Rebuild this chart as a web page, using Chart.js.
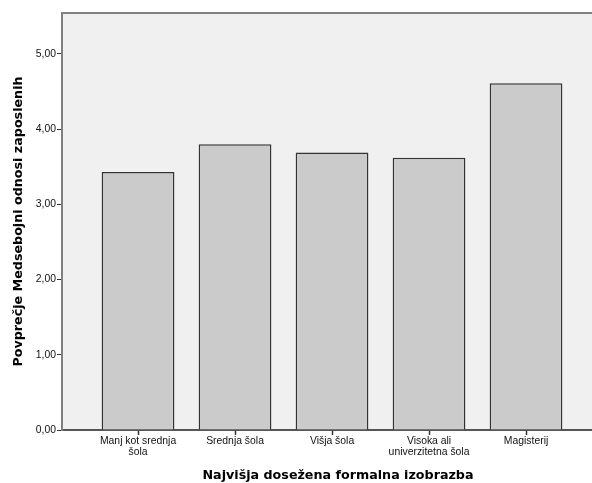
<!DOCTYPE html>
<html>
<head>
<meta charset="utf-8">
<script src="https://cdn.jsdelivr.net/npm/chart.js@4.4.1/dist/chart.umd.min.js"></script>
<style>
  html, body { margin: 0; padding: 0; background: #fff; overflow: hidden; }
  #wrap { width: 614px; height: 483px; }
</style>
</head>
<body>
<div id="wrap"><canvas id="chart" width="614" height="483"></canvas></div>
<script>
// ===== data =====
const categories = [
  ["Manj kot srednja", "šola"],
  "Srednja šola",
  "Višja šola",
  ["Visoka ali", "univerzitetna šola"],
  "Magisterij"
];
const means = [3.43, 3.80, 3.69, 3.62, 4.61];
const yTicks = [0, 1, 2, 3, 4, 5];

const xTitle = "Najvišja dosežena formalna izobrazba";
const yTitle = "Povprečje Medsebojni odnosi zaposlenih";

const points = means.map((v, i) => ({ x: i, y: v }));

// grey plot background + frame
const plotBg = {
  id: "plotBg",
  beforeDraw(chart) {
    const { ctx, chartArea: a } = chart;
    ctx.save();
    ctx.fillStyle = "#f0f0f0";
    ctx.fillRect(a.left, a.top, a.right - a.left, a.bottom - a.top);
    ctx.strokeStyle = "#808080";
    ctx.lineWidth = 2;
    ctx.beginPath();
    ctx.moveTo(a.left, a.bottom);
    ctx.lineTo(a.left, a.top);
    ctx.lineTo(a.right, a.top);
    ctx.stroke();
    ctx.restore();
  }
};

const titleFont = { family: "'DejaVu Sans', sans-serif", size: 12.7, weight: "bold" };
const tickFont = { family: "'Liberation Sans', Arial, sans-serif", size: 10.4, lineHeight: 1.05 };

new Chart(document.getElementById("chart"), {
  type: "bar",
  data: {
    datasets: [{
      data: points,
      backgroundColor: "#cbcbcb",
      borderColor: "#333",
      borderWidth: 1.5,
      categoryPercentage: 1,
      barPercentage: 0.75
    }]
  },
  options: {
    responsive: false,
    animation: false,
    layout: { padding: { top: 13, right: 0, left: 0, bottom: 0 } },
    plugins: { legend: { display: false }, tooltip: { enabled: false } },
    scales: {
      x: {
        type: "linear",
        offset: false,
        min: -0.784,
        max: 4.907,
        afterFit: (s) => { s.height = 53; },
        afterBuildTicks: (s) => {
          s.ticks = categories.map((c, i) => ({ value: i }));
        },
        ticks: {
          autoSkip: false,
          maxRotation: 0,
          padding: 1,
          color: "#111",
          font: tickFont,
          callback: (v) => categories[v]
        },
        grid: { offset: false, drawOnChartArea: false, drawTicks: true, tickLength: 5, color: "#333", tickWidth: 1.5 },
        border: { display: true, color: "#555", width: 2 },
        title: {
          display: true,
          text: xTitle,
          color: "#000",
          font: titleFont,
          padding: { top: 0, bottom: 0 }
        }
      },
      y: {
        min: 0,
        max: 5.545,
        afterFit: (s) => { s.width = 62; },
        afterBuildTicks: (s) => {
          s.ticks = yTicks.map((v) => ({ value: v }));
        },
        ticks: {
          padding: 1,
          color: "#111",
          font: { family: "'Liberation Sans', Arial, sans-serif", size: 10.4 },
          callback: (v) => v.toFixed(2).replace(".", ",")
        },
        grid: { drawOnChartArea: false, drawTicks: true, tickLength: 5, color: "#333", tickWidth: 1 },
        border: { display: true, color: "#808080", width: 2 },
        title: {
          display: true,
          text: yTitle,
          color: "#000",
          font: titleFont,
          padding: { top: 11, bottom: 0 }
        }
      }
    }
  },
  plugins: [plotBg]
});
</script>
</body>
</html>
